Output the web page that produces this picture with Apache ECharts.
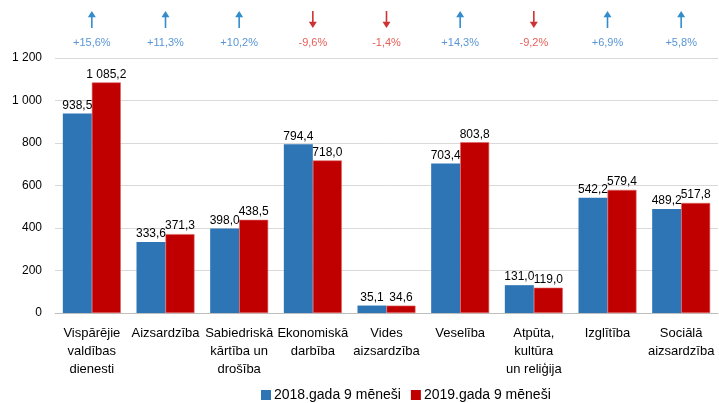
<!DOCTYPE html>
<html>
<head>
<meta charset="utf-8">
<script src="https://cdn.jsdelivr.net/npm/echarts@6/dist/echarts.min.js"></script>
<style>
  html, body { margin: 0; padding: 0; background: #fff; }
  #chart { width: 719px; height: 403px; }
</style>
</head>
<body>
<div id="chart"></div>
<script>
// Chart data
const categories = [
  'Vispārējie\nvaldības\ndienesti',
  'Aizsardzība',
  'Sabiedriskā\nkārtība un\ndrošība',
  'Ekonomiskā\ndarbība',
  'Vides\naizsardzība',
  'Veselība',
  'Atpūta,\nkultūra\nun reliģija',
  'Izglītība',
  'Sociālā\naizsardzība'
]
const seriesNames = ['2018.gada 9 mēneši', '2019.gada 9 mēneši']
const values2018 = [938.5, 333.6, 398.0, 794.4, 35.1, 703.4, 131.0, 542.2, 489.2]
const values2019 = [1085.2, 371.3, 438.5, 718.0, 34.6, 803.8, 119.0, 579.4, 517.8]
const changePct = [15.6, 11.3, 10.2, -9.6, -1.4, 14.3, -9.2, 6.9, 5.8]
const yMin = 0
const yMax = 1200
const yStep = 200

const font = '"Liberation Sans", Arial, sans-serif'

// 1085.2 -> "1 085,2"
const fmt = (v, digits) => {
  const parts = v.toFixed(digits).split('.')
  parts[0] = parts[0].replace(/\B(?=(\d{3})+(?!\d))/g, ' ')
  return parts.join(',')
}

const arrowPath = 'path://M5,0 L10,8 L6,8 L6,22 L4,22 L4,8 L0,8 Z'

const arrowData = changePct.map((p, i) => ({
  value: [i, 0.5],
  symbolRotate: p < 0 ? 180 : 0,
  itemStyle: { color: p < 0 ? '#C00000' : '#0070C0' },
  label: { color: p < 0 ? '#E0352B' : '#2E7BC9' },
  pct: p
}))

const barLabel = {
  show: true,
  position: 'top',
  distance: 2,
  fontFamily: font,
  fontSize: 12,
  color: '#000',
  formatter: p => fmt(p.value, 1)
}

const chart = echarts.init(document.getElementById('chart'))

chart.setOption({
  animation: false,
  grid: [
    { left: 55, right: 1, top: 58, bottom: 90 },
    { left: 55, right: 1, top: 11, height: 17 }
  ],
  legend: {
    data: seriesNames,
    left: 256,
    top: 383,
    itemWidth: 10,
    itemHeight: 10,
    itemGap: 10,
    icon: 'rect',
    itemStyle: { borderWidth: 0 },
    textStyle: { fontFamily: font, fontSize: 14, color: '#000', padding: [0, 0, 0, -2] }
  },
  xAxis: [
    {
      type: 'category',
      gridIndex: 0,
      data: categories,
      axisLine: { lineStyle: { color: '#BFBFBF' } },
      axisTick: { show: false },
      axisLabel: {
        interval: 0,
        margin: 11,
        fontFamily: font,
        fontSize: 13,
        lineHeight: 18,
        color: '#000'
      }
    },
    {
      type: 'category',
      gridIndex: 1,
      data: categories,
      show: false
    }
  ],
  yAxis: [
    {
      type: 'value',
      gridIndex: 0,
      min: yMin,
      max: yMax,
      interval: yStep,
      axisLine: { show: false },
      axisTick: { show: false },
      axisLabel: {
        margin: 13,
        fontFamily: font,
        fontSize: 12,
        color: '#000',
        formatter: v => fmt(v, 0)
      },
      splitLine: { lineStyle: { color: '#D9D9D9' } }
    },
    {
      type: 'value',
      gridIndex: 1,
      min: 0,
      max: 1,
      show: false
    }
  ],
  series: [
    {
      name: seriesNames[0],
      type: 'bar',
      xAxisIndex: 0,
      yAxisIndex: 0,
      data: values2018,
      barWidth: 29,
      barGap: '0%',
      itemStyle: { color: '#2E75B6' },
      label: barLabel
    },
    {
      name: seriesNames[1],
      type: 'bar',
      xAxisIndex: 0,
      yAxisIndex: 0,
      data: values2019,
      barWidth: 29,
      barGap: '0%',
      itemStyle: { color: '#C00000', borderColor: '#E06666', borderWidth: 0.6 },
      label: barLabel
    },
    {
      type: 'scatter',
      xAxisIndex: 1,
      yAxisIndex: 1,
      data: arrowData,
      symbol: arrowPath,
      symbolSize: [8, 17],
      silent: true,
      label: {
        show: true,
        position: 'bottom',
        distance: 9,
        fontFamily: font,
        fontSize: 11,
        formatter: p => (p.data.pct > 0 ? '+' : '') + fmt(p.data.pct, 1) + '%'
      }
    }
  ]
})
</script>
</body>
</html>
